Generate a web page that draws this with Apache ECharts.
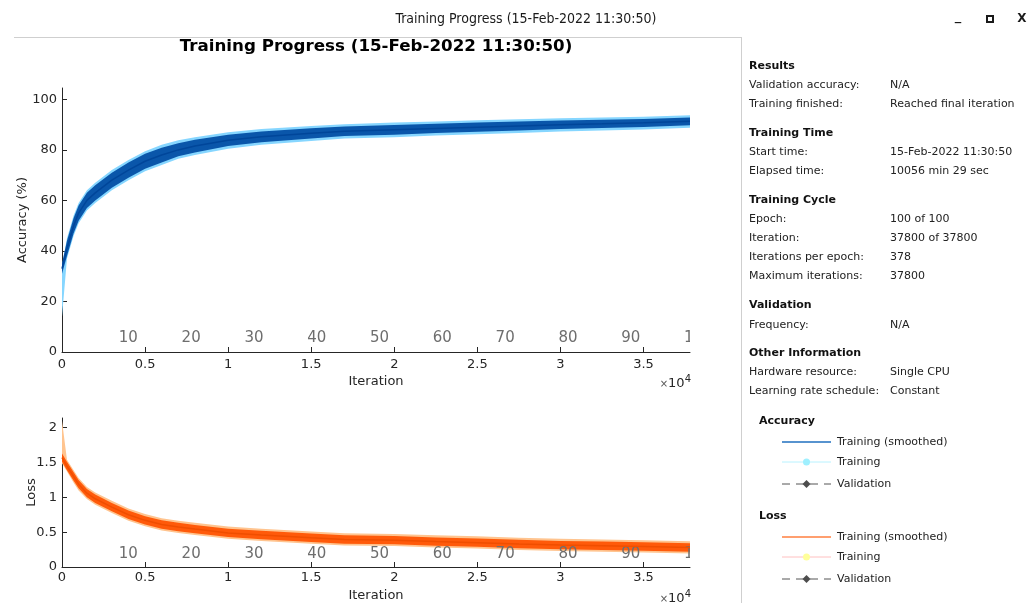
<!DOCTYPE html>
<html>
<head>
<meta charset="utf-8">
<script src="https://cdn.jsdelivr.net/npm/echarts@6/dist/echarts.min.js"></script>
<style>
html, body { margin: 0; padding: 0; background: #fff; }
#main { width: 1035px; height: 603px; }
</style>
</head>
<body>
<div id="main"></div>
<script>
// sample iterations used for all curves
var iters = [0, 300, 700, 1000, 1500, 2000, 3000, 4000, 5000, 6000, 7000, 8000, 10000, 12000,
    15000, 17000, 20000, 22500, 25000, 27500, 30000, 32500, 35000, 37800];

// accuracy (%)
var accSmooth = [33, 41, 50, 55, 60, 63, 68, 72, 75.5, 78, 80, 81.5, 83.8, 85.2,
    86.6, 87.4, 88, 88.5, 89, 89.5, 90, 90.3, 90.7, 91.3];
var accSmoothLow = [31, 38, 47, 52, 57, 60, 65, 69, 72.5, 75, 77.5, 79, 81.5, 83,
    84.5, 85.5, 86, 86.7, 87.2, 87.7, 88.3, 88.7, 89.1, 89.8];
var accSmoothHigh = [35, 44, 53, 58, 63, 66, 71, 75, 78.5, 80.8, 82.6, 84, 86, 87.3,
    88.6, 89.3, 89.9, 90.3, 90.8, 91.2, 91.6, 91.9, 92.2, 92.8];
var accRawLow = [14, 37, 46, 51, 56, 59, 64, 68, 71.5, 74, 76.5, 78, 80.5, 82,
    83.5, 84.5, 85, 85.7, 86.2, 86.7, 87.3, 87.7, 88.1, 88.8];
var accRawHigh = [34, 45, 54, 59, 64, 67, 72, 76, 79.5, 82, 83.8, 85, 87, 88.3,
    89.5, 90.2, 90.8, 91.2, 91.7, 92.1, 92.5, 92.8, 93.1, 93.7];

// loss
var lossSmooth = [1.57, 1.45, 1.3, 1.19, 1.06, 0.98, 0.86, 0.75, 0.67, 0.61, 0.575, 0.545, 0.49, 0.46,
    0.42, 0.395, 0.385, 0.365, 0.35, 0.33, 0.315, 0.305, 0.295, 0.28];
var lossSmoothLow = [1.51, 1.39, 1.24, 1.13, 1.0, 0.92, 0.8, 0.69, 0.61, 0.55, 0.515, 0.485, 0.43, 0.4,
    0.36, 0.335, 0.325, 0.305, 0.29, 0.27, 0.255, 0.245, 0.235, 0.22];
var lossSmoothHigh = [1.63, 1.51, 1.36, 1.25, 1.12, 1.04, 0.92, 0.81, 0.73, 0.67, 0.635, 0.605, 0.55, 0.52,
    0.48, 0.455, 0.445, 0.425, 0.41, 0.39, 0.375, 0.365, 0.355, 0.34];
var lossRawLow = [1.49, 1.37, 1.21, 1.1, 0.975, 0.895, 0.775, 0.665, 0.585, 0.525, 0.49, 0.46, 0.405, 0.375,
    0.335, 0.31, 0.3, 0.28, 0.265, 0.245, 0.23, 0.22, 0.21, 0.195];
var lossRawHigh = [2.1, 1.54, 1.39, 1.28, 1.15, 1.07, 0.95, 0.84, 0.76, 0.7, 0.665, 0.635, 0.58, 0.55,
    0.51, 0.485, 0.475, 0.455, 0.44, 0.42, 0.405, 0.395, 0.385, 0.37];

// axis ticks
var xTicks = [0, 5000, 10000, 15000, 20000, 25000, 30000, 35000];
var accTicks = [0, 20, 40, 60, 80, 100];
var lossTicks = [0, 0.5, 1, 1.5, 2];
var epochLabels = ['10', '20', '30', '40', '50', '60', '70', '80', '90', '100'];
var epochIters = [3780, 7560, 11340, 15120, 18900, 22680, 26460, 30240, 34020, 37800];

// info panel
var infoRows = [
    ['h', 'Results', 66],
    ['r', 'Validation accuracy:', 'N/A', 85],
    ['r', 'Training finished:', 'Reached final iteration', 104],
    ['h', 'Training Time', 133],
    ['r', 'Start time:', '15-Feb-2022 11:30:50', 152],
    ['r', 'Elapsed time:', '10056 min 29 sec', 171],
    ['h', 'Training Cycle', 200],
    ['r', 'Epoch:', '100 of 100', 219],
    ['r', 'Iteration:', '37800 of 37800', 238],
    ['r', 'Iterations per epoch:', '378', 257],
    ['r', 'Maximum iterations:', '37800', 276],
    ['h', 'Validation', 305],
    ['r', 'Frequency:', 'N/A', 325],
    ['h', 'Other Information', 353],
    ['r', 'Hardware resource:', 'Single CPU', 372],
    ['r', 'Learning rate schedule:', 'Constant', 391]
];

var FONT = 'DejaVu Sans';
var AX = '#262626';

var chart = echarts.init(document.getElementById('main'));

// filled band between a low and a high curve, drawn as one polygon through the axes
function band(lo, hi, color, gi) {
    return {
        type: 'custom', xAxisIndex: gi, yAxisIndex: gi, clip: true, silent: true,
        data: [[iters[0], lo[0]]],
        renderItem: function (params, api) {
            var pts = [];
            for (var i = 0; i < iters.length; i++) pts.push(api.coord([iters[i], hi[i]]));
            for (var j = iters.length - 1; j >= 0; j--) pts.push(api.coord([iters[j], lo[j]]));
            return { type: 'polygon', shape: { points: pts }, style: { fill: color } };
        }
    };
}

function epochSeries(gi, up) {
    return {
        type: 'custom', xAxisIndex: gi, yAxisIndex: gi, clip: true, silent: true,
        data: epochIters.map(function (x) { return [x, 0]; }),
        renderItem: function (params, api) {
            var p = api.coord([api.value(0), 0]);
            return {
                type: 'text', x: p[0] - 6, y: p[1] - up,
                style: {
                    text: epochLabels[params.dataIndex], fill: '#6e6e6e',
                    font: '15px ' + FONT, align: 'left', verticalAlign: 'middle'
                }
            };
        }
    };
}

function xAxisFor(gi, margin, nameGap) {
    return {
        gridIndex: gi, type: 'value', min: 0, max: 37800,
        name: 'Iteration', nameLocation: 'middle', nameGap: nameGap, nameMoveOverlap: false,
        nameTextStyle: { color: AX, fontSize: 13, fontFamily: FONT },
        axisLine: { show: true, onZero: false, lineStyle: { color: AX, width: 1 } },
        axisTick: { show: true, inside: true, length: 5, customValues: xTicks, lineStyle: { color: AX } },
        axisLabel: {
            customValues: xTicks, margin: margin, color: AX, fontSize: 13, fontFamily: FONT,
            formatter: function (v) { return String(v / 10000); }
        },
        splitLine: { show: false }
    };
}

function yAxisFor(gi, max, ticks, name, nameGap) {
    return {
        gridIndex: gi, type: 'value', min: 0, max: max,
        name: name, nameLocation: 'middle', nameGap: nameGap, nameMoveOverlap: false,
        nameTextStyle: { color: AX, fontSize: 13, fontFamily: FONT },
        axisLine: { show: true, onZero: false, lineStyle: { color: AX, width: 1 } },
        axisTick: { show: true, inside: true, length: 5, customValues: ticks, lineStyle: { color: AX } },
        axisLabel: { customValues: ticks, margin: 5, color: AX, fontSize: 13, fontFamily: FONT },
        splitLine: { show: false }
    };
}

var expRich = {
    s: { font: '10px ' + FONT, fill: '#555' },
    b: { font: '13px ' + FONT, fill: AX },
    e: { font: '10px ' + FONT, fill: AX, verticalAlign: 'top', padding: [0, 0, 9, 0] }
};

var graphics = [
    // window title bar
    { type: 'text', x: 526, y: 19, style: { text: 'Training Progress (15-Feb-2022 11:30:50)', font: '14px "DejaVu Sans Condensed", ' + FONT, fill: '#1a1a1a', align: 'center', verticalAlign: 'middle' } },
    { type: 'text', x: 958, y: 17, style: { text: '_', font: 'bold 13px ' + FONT, fill: '#1a1a1a', align: 'center', verticalAlign: 'middle' } },
    { type: 'rect', shape: { x: 987, y: 16, width: 6, height: 6 }, style: { fill: 'none', stroke: '#1a1a1a', lineWidth: 2 } },
    { type: 'text', x: 1022, y: 19, style: { text: 'X', font: 'bold 12px ' + FONT, fill: '#1a1a1a', align: 'center', verticalAlign: 'middle' } },
    // separators
    { type: 'line', shape: { x1: 14, y1: 37.5, x2: 742, y2: 37.5 }, style: { stroke: '#cfcfcf', lineWidth: 1 } },
    { type: 'line', shape: { x1: 741.5, y1: 37, x2: 741.5, y2: 603 }, style: { stroke: '#cfcfcf', lineWidth: 1 } },
    // chart title
    { type: 'text', x: 376, y: 47, style: { text: 'Training Progress (15-Feb-2022 11:30:50)', font: 'bold 16.7px ' + FONT, fill: '#000', align: 'center', verticalAlign: 'middle' } },
    // x10^4 exponents
    { type: 'text', x: 691, y: 384, style: { text: '{s|×}{b|10}{e|4}', align: 'right', verticalAlign: 'middle', rich: expRich } },
    { type: 'text', x: 691, y: 599, style: { text: '{s|×}{b|10}{e|4}', align: 'right', verticalAlign: 'middle', rich: expRich } }
];

infoRows.forEach(function (r) {
    if (r[0] === 'h') {
        graphics.push({ type: 'text', x: 749, y: r[2], style: { text: r[1], font: 'bold 11px ' + FONT, fill: '#111', verticalAlign: 'middle' } });
    } else {
        graphics.push({ type: 'text', x: 749, y: r[3], style: { text: r[1], font: '11px ' + FONT, fill: '#222', verticalAlign: 'middle' } });
        graphics.push({ type: 'text', x: 890, y: r[3], style: { text: r[2], font: '11px ' + FONT, fill: '#222', verticalAlign: 'middle' } });
    }
});

// legend block
function legendGroup(title, ty, smoothColor, rawLine, rawMarker) {
    var items = [
        { type: 'text', x: 759, y: ty, style: { text: title, font: 'bold 11px ' + FONT, fill: '#111', verticalAlign: 'middle' } },
        { type: 'line', shape: { x1: 782, y1: ty + 21, x2: 831, y2: ty + 21 }, style: { stroke: smoothColor, lineWidth: 1.5 } },
        { type: 'text', x: 837, y: ty + 21, style: { text: 'Training (smoothed)', font: '11px ' + FONT, fill: '#222', verticalAlign: 'middle' } },
        { type: 'line', shape: { x1: 782, y1: ty + 41, x2: 831, y2: ty + 41 }, style: { stroke: rawLine, lineWidth: 1 } },
        { type: 'circle', shape: { cx: 806.5, cy: ty + 41, r: 3.5 }, style: { fill: rawMarker } },
        { type: 'text', x: 837, y: ty + 41, style: { text: 'Training', font: '11px ' + FONT, fill: '#222', verticalAlign: 'middle' } },
        { type: 'line', shape: { x1: 782, y1: ty + 63, x2: 831, y2: ty + 63 }, style: { stroke: '#555', lineWidth: 1, lineDash: [8, 6] } },
        { type: 'polygon', shape: { points: [[806.5, ty + 59], [810.5, ty + 63], [806.5, ty + 67], [802.5, ty + 63]] }, style: { fill: '#4d4d4d' } },
        { type: 'text', x: 837, y: ty + 63, style: { text: 'Validation', font: '11px ' + FONT, fill: '#222', verticalAlign: 'middle' } }
    ];
    graphics.push.apply(graphics, items);
}
legendGroup('Accuracy', 421, '#1f6fbf', '#b8f2ff', '#9ff0ff');
legendGroup('Loss', 516, '#ff7f3f', '#ffc0c0', '#ffff9a');

var series = [
    band(accRawLow, accRawHigh, '#86d6ff', 0),
    band(accSmoothLow, accSmoothHigh, '#0a56aa', 0),
    {
        type: 'line', xAxisIndex: 0, yAxisIndex: 0, symbol: 'none', silent: true,
        lineStyle: { color: '#00469a', width: 1.5 },
        data: iters.map(function (x, i) { return [x, accSmooth[i]]; })
    },
    band(lossRawLow, lossRawHigh, '#ffc48f', 1),
    band(lossSmoothLow, lossSmoothHigh, '#ff5a0a', 1),
    {
        type: 'line', xAxisIndex: 1, yAxisIndex: 1, symbol: 'none', silent: true,
        lineStyle: { color: '#f04e00', width: 1.5 },
        data: iters.map(function (x, i) { return [x, lossSmooth[i]]; })
    },
    epochSeries(0, 14),
    epochSeries(1, 13)
];

var option = {
    backgroundColor: '#fff',
    animation: false,
    grid: [
        { left: 62, right: 345, top: 88, bottom: 251 },
        { left: 62, right: 345, top: 418, bottom: 27 }
    ],
    xAxis: [xAxisFor(0, 6, 23), xAxisFor(1, 4, 22)],
    yAxis: [
        yAxisFor(0, 104.5, accTicks, 'Accuracy (%)', 33),
        yAxisFor(1, 2.14, lossTicks, 'Loss', 24)
    ],
    graphic: graphics,
    series: series
};

chart.setOption(option);
</script>
</body>
</html>
